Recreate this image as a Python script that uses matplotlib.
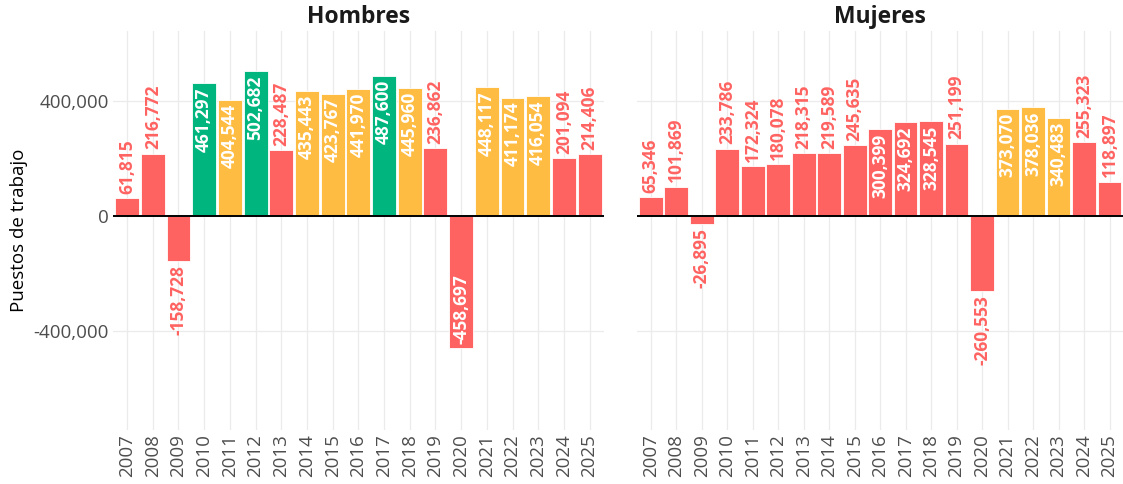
import matplotlib
matplotlib.use("Agg")
import matplotlib.pyplot as plt
from matplotlib.ticker import FuncFormatter

plt.rcParams["font.family"] = ["Open Sans", "DejaVu Sans"]

# ── data ──────────────────────────────────────────────────────────────────────

YEARS = list(range(2007, 2026))

HOMBRES = [61815, 216772, -158728, 461297, 404544, 502682, 228487, 435443,
           423767, 441970, 487600, 445960, 236862, -458697, 448117, 411174,
           416054, 201094, 214406]
HOMBRES_CAT = ["r", "r", "r", "g", "y", "g", "r", "y", "y", "y", "g", "y",
               "r", "r", "y", "y", "y", "r", "r"]

MUJERES = [65346, 101869, -26895, 233786, 172324, 180078, 218315, 219589,
           245635, 300399, 324692, 328545, 251199, -260553, 373070, 378036,
           340483, 255323, 118897]
MUJERES_CAT = ["r", "r", "r", "r", "r", "r", "r", "r", "r", "r", "r", "r",
               "r", "r", "y", "y", "y", "r", "r"]

PANELS = [("Hombres", HOMBRES, HOMBRES_CAT), ("Mujeres", MUJERES, MUJERES_CAT)]

# ── style ─────────────────────────────────────────────────────────────────────

COLORS = {"r": "#FF6361", "y": "#FFBC42", "g": "#00B67E"}
RED_TXT = "#FF6361"
GRID = "#EBEBEB"
TICK_C = "#4D4D4D"
INSIDE_MIN = 280000   # labels go inside the bar above this size

fig = plt.figure(figsize=(11.23, 4.84), dpi=100, facecolor="white")
axes = [fig.add_axes([0.1006, 0.1116, 0.437, 0.8244]),
        fig.add_axes([0.567, 0.1116, 0.4335, 0.8244])]

for i, (ax, (title, vals, cats)) in enumerate(zip(axes, PANELS)):
    ax.bar(YEARS, vals, width=0.93, color=[COLORS[c] for c in cats],
           edgecolor="white", linewidth=0.6, zorder=2)
    ax.axhline(0, color="black", linewidth=1.4, zorder=3)

    for x, v in zip(YEARS, vals):
        txt = f"{v:,}"
        inside = abs(v) > INSIDE_MIN
        if v >= 0:
            off, va = (-3, "top") if inside else (3, "bottom")
        else:
            off, va = (3, "bottom") if inside else (-3, "top")
        ax.annotate(txt, xy=(x, v), xytext=(0, off), textcoords="offset points",
                    rotation=90, ha="center", va=va, fontsize=12.5,
                    fontweight="bold", color="white" if inside else RED_TXT,
                    zorder=4)

    ax.set_xlim(2006.45, 2025.55)
    ax.set_ylim(-745000, 643000)
    ax.set_xticks(YEARS)
    ax.set_xticklabels([str(y) for y in YEARS], rotation=90)
    ax.set_yticks([-400000, 0, 400000])
    ax.yaxis.set_major_formatter(FuncFormatter(lambda v, p: f"{int(v):,}"))
    ax.tick_params(axis="both", length=0, labelsize=13.5, colors=TICK_C, pad=3)
    ax.grid(True, color=GRID, linewidth=0.9, zorder=0)
    ax.set_axisbelow(True)
    for s in ax.spines.values():
        s.set_visible(False)
    ax.set_title(title, fontsize=16.5, fontweight="bold", color="#1A1A1A", pad=6)
    if i == 0:
        ax.set_ylabel("Puestos de trabajo", fontsize=13.5, color="black", labelpad=4)
    else:
        ax.tick_params(axis="y", labelleft=False)

fig.savefig("out.png", dpi=100, facecolor="white")
